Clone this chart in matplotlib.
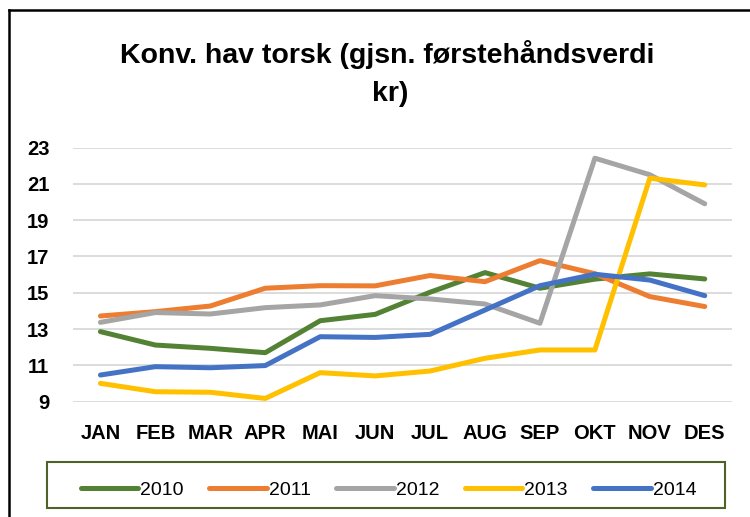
import matplotlib.pyplot as plt
from matplotlib.lines import Line2D
from matplotlib.patches import Rectangle

months = ["JAN", "FEB", "MAR", "APR", "MAI", "JUN", "JUL", "AUG", "SEP", "OKT", "NOV", "DES"]

v2010 = [12.86, 12.12, 11.94, 11.70, 13.46, 13.81, 15.03, 16.11, 15.25, 15.75, 16.04, 15.76]
v2011 = [13.72, 13.96, 14.27, 15.25, 15.39, 15.38, 15.95, 15.61, 16.77, 16.05, 14.79, 14.24]
v2012 = [13.37, 13.91, 13.83, 14.18, 14.33, 14.84, 14.66, 14.38, 13.32, 22.41, 21.50, 19.90]
v2013 = [10.01, 9.55, 9.52, 9.18, 10.60, 10.42, 10.69, 11.39, 11.85, 11.85, 21.31, 20.94]
v2014 = [10.47, 10.93, 10.87, 10.99, 12.58, 12.54, 12.71, 14.05, 15.39, 16.02, 15.70, 14.84]

series = [("2010", v2010, "#548235"),
          ("2011", v2011, "#ED7D31"),
          ("2012", v2012, "#A5A5A5"),
          ("2013", v2013, "#FFC000"),
          ("2014", v2014, "#4472C4")]

plt.rcParams['font.family'] = ['Liberation Sans', 'DejaVu Sans']

fig = plt.figure(figsize=(7.5, 5.17), dpi=100)
ax = fig.add_axes([0.0973, 0.223, 0.879, 0.4917])

x = list(range(len(months)))
for name, vals, col in series:
    ax.plot(x, vals, color=col, lw=3.6, label=name, solid_capstyle="round", solid_joinstyle="round")

ax.set_xlim(-0.5, 11.5)
ax.set_ylim(9, 23)
ax.set_yticks(range(9, 24, 2))
ax.set_xticks(x)
ax.set_xticklabels(months, fontsize=14.5, fontweight="bold")
for t in ax.get_yticklabels():
    t.set_fontsize(14.5)
    t.set_fontweight("bold")
ax.tick_params(axis="x", length=0, pad=16)
ax.tick_params(axis="y", length=0, pad=17)
ax.grid(axis="y", color="#D9D9D9", lw=1.3)
ax.set_axisbelow(True)
for s in ax.spines.values():
    s.set_visible(False)

fig.text(0.516, 0.878, "Konv. hav torsk (gjsn. førstehåndsverdi", ha="center", va="baseline",
         fontsize=20.5, fontweight="bold")
fig.text(0.52, 0.805, "kr)", ha="center", va="baseline", fontsize=20.5, fontweight="bold")

# legend box drawn separately, entries spread inside it
fig.add_artist(Rectangle((0.063, 0.0174), 0.904, 0.0886, transform=fig.transFigure,
                         facecolor="none", edgecolor="#4F6228", lw=1.5))
leg = fig.legend(loc="lower left", bbox_to_anchor=(0.096, 0.0174, 0.844, 0.0886), mode="expand",
                 ncol=5, frameon=False, fontsize=14, handlelength=2.95, handletextpad=0.1,
                 borderpad=0.45, borderaxespad=0)
for h in leg.get_lines():
    h.set_solid_capstyle("round")

# outer frame
fig.add_artist(Line2D([0.012, 0.012], [0, 0.981], color="black", lw=1.8, transform=fig.transFigure))
fig.add_artist(Line2D([0.012, 1.0], [0.981, 0.981], color="black", lw=1.8, transform=fig.transFigure))

fig.savefig("out.png", dpi=100)
